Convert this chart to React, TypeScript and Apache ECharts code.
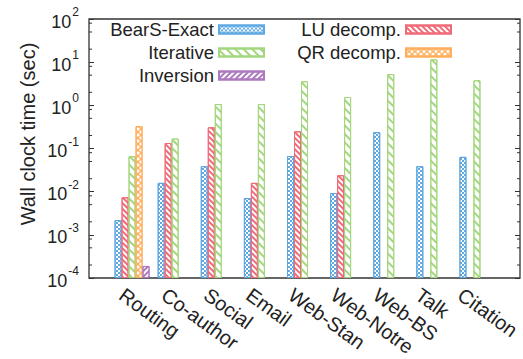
import React, { useEffect, useRef } from 'react';
import * as echarts from 'echarts';

const categories = ['Routing', 'Co-author', 'Social', 'Email', 'Web-Stan', 'Web-Notre', 'Web-BS', 'Talk', 'Citation'];
const bearsExact = [0.0022, 0.016, 0.039, 0.0071, 0.067, 0.0093, 0.24, 0.039, 0.064];
const luDecomp = [0.0074, 0.134, 0.31, 0.016, 0.25, 0.024, null, null, null];
const iterative = [0.066, 0.17, 1.07, 1.07, 3.6, 1.56, 5.3, 11.6, 3.8];
const qrDecomp = [0.33, null, null, null, null, null, null, null, null];
const inversion = [0.00019, null, null, null, null, null, null, null, null];
const minorTickValues = [
  2e-4, 5e-4, 8e-4, 2e-3, 5e-3, 8e-3, 2e-2, 5e-2, 8e-2,
  0.2, 0.5, 0.8, 2, 5, 8, 20, 50, 80,
];
const Y_MIN = 1e-4;
const Y_MAX = 100;

const FONT = '"Liberation Sans", Arial, Helvetica, sans-serif';
const TEXT = '#222';

const BLUE = '#5fa8e2';
const RED = '#ef6b79';
const GREEN = '#a3d67e';
const ORANGE = '#ffae5c';
const PURPLE = '#ad78bd';

const decals: Record<string, any> = {
  blue: {
    symbol: 'rect', symbolSize: 1, color: BLUE,
    dashArrayX: [[2, 2], [0, 2, 2, 0]], dashArrayY: [2, 0], rotation: 0,
  },
  red: {
    symbol: 'rect', symbolSize: 1, color: RED,
    dashArrayX: [1, 0], dashArrayY: [1.4, 1.6], rotation: Math.PI / 4,
  },
  green: {
    symbol: 'rect', symbolSize: 1, color: GREEN,
    dashArrayX: [1, 0], dashArrayY: [1.3, 3.6], rotation: Math.PI / 4,
  },
  orange: {
    symbol: 'path://M0,0L1.5,0L10,8.5L10,10L8.5,10L0,1.5ZM8.5,0L10,0L10,1.5L1.5,10L0,10L0,8.5Z',
    symbolSize: 1, color: ORANGE,
    dashArrayX: [6, 0], dashArrayY: [6, 0], rotation: 0,
  },
  purple: {
    symbol: 'rect', symbolSize: 1, color: PURPLE,
    dashArrayX: [1, 0], dashArrayY: [1.4, 1.6], rotation: -Math.PI / 4,
  },
};

// bars are drawn on a linear axis in log10 space (offset so bars rise from the axis bottom)
const toLogSpace = (v: number | null) => (v == null ? null : Math.log10(v) - Math.log10(Y_MIN));

function barSeries(name: string, data: (number | null)[], color: string, decal: any) {
  return {
    name,
    type: 'bar',
    xAxisIndex: 1,
    yAxisIndex: 2,
    data: data.map(toLogSpace),
    barWidth: 7,
    barGap: '0%',
    itemStyle: { color: '#ffffff', borderColor: color, borderWidth: 1, decal },
  };
}

function legendAt(name: string, right: number, top: number) {
  return {
    data: [name],
    right,
    top,
    orient: 'horizontal',
    align: 'right',
    icon: 'rect',
    itemWidth: 45,
    itemHeight: 8,
    padding: 0,
    selectedMode: false,
    textStyle: { fontSize: 18.5, fontFamily: FONT, color: TEXT },
  };
}

export default function App() {
  const ref = useRef<HTMLDivElement>(null);
  useEffect(() => {
    if (!ref.current) return;
    document.body.style.margin = '0';
    const chart = echarts.init(ref.current, undefined, { renderer: 'svg' });
    const gridTop = 19;
    const gridH = 259;
    const option: any = {
      animation: false,
      backgroundColor: '#ffffff',
      grid: [
        { left: 89, top: gridTop, width: 431, height: gridH, show: true, borderColor: '#333', borderWidth: 1.3, backgroundColor: 'transparent' },
        { left: 110.5, top: gridTop, width: 388, height: gridH },
        { left: 100.5, top: gridTop, width: 388, height: gridH },
      ],
      xAxis: [
        { gridIndex: 0, type: 'value', min: 0, max: 1, show: false },
        { gridIndex: 1, type: 'category', data: categories, show: false },
        {
          gridIndex: 2, type: 'category', data: categories,
          axisLine: { show: false }, axisTick: { show: false },
          axisLabel: { interval: 0, rotate: -36, margin: 17, fontSize: 20, fontFamily: FONT, color: TEXT },
        },
      ],
      yAxis: [
        {
          gridIndex: 0, type: 'log', logBase: 10, min: Y_MIN, max: Y_MAX, splitNumber: 6,
          axisLine: { show: false }, splitLine: { show: false },
          axisTick: { inside: true, length: 5, lineStyle: { color: '#333', width: 1 } },
          axisLabel: {
            margin: 10,
            formatter: (v: number) => '{b|10}{s|' + Math.round(Math.log10(v)) + '}',
            rich: {
              b: { fontSize: 18, fontFamily: FONT, color: TEXT, padding: [5, 0, 0, 0] },
              s: { fontSize: 12, fontFamily: FONT, color: TEXT, lineHeight: 12, padding: [0, 0, 14, 1] },
            },
          },
        },
        {
          gridIndex: 0, type: 'log', logBase: 10, min: Y_MIN, max: Y_MAX, splitNumber: 6, position: 'right',
          axisLine: { show: false }, splitLine: { show: false }, axisLabel: { show: false },
          axisTick: { inside: true, length: 5, lineStyle: { color: '#333', width: 1 } },
        },
        { gridIndex: 1, type: 'value', min: 0, max: Math.log10(Y_MAX) - Math.log10(Y_MIN), show: false },
        { gridIndex: 2, type: 'value', show: false },
      ],
      legend: [
        legendAt('BearS-Exact', 258, 20),
        legendAt('Iterative', 258, 43),
        legendAt('Inversion', 258, 66),
        legendAt('LU decomp.', 71, 20),
        legendAt('QR decomp.', 71, 43),
      ],
      graphic: [
        {
          type: 'text', x: 28, y: 134, rotation: Math.PI / 2,
          style: { text: 'Wall clock time (sec)', fontSize: 20, fontFamily: FONT, fill: TEXT, align: 'center', verticalAlign: 'middle' },
        },
      ],
      series: [
        barSeries('BearS-Exact', bearsExact, BLUE, decals.blue),
        barSeries('LU decomp.', luDecomp, RED, decals.red),
        barSeries('Iterative', iterative, GREEN, decals.green),
        barSeries('QR decomp.', qrDecomp, ORANGE, decals.orange),
        barSeries('Inversion', inversion, PURPLE, decals.purple),
        {
          type: 'custom',
          xAxisIndex: 0,
          yAxisIndex: 0,
          silent: true,
          clip: false,
          data: minorTickValues.map((v) => [0, v]),
          encode: { x: 0, y: 1 },
          renderItem: (_p: any, api: any) => {
            const v = api.value(1);
            const l = api.coord([0, v]);
            const r = api.coord([1, v]);
            const st = { stroke: '#333', lineWidth: 1 };
            return {
              type: 'group',
              children: [
                { type: 'line', shape: { x1: l[0], y1: l[1], x2: l[0] + 3, y2: l[1] }, style: st },
                { type: 'line', shape: { x1: r[0] - 3, y1: r[1], x2: r[0], y2: r[1] }, style: st },
              ],
            };
          },
        },
      ],
    };
    chart.setOption(option);
    return () => chart.dispose();
  }, []);
  return <div ref={ref} style={{ width: 523, height: 359 }} />;
}
